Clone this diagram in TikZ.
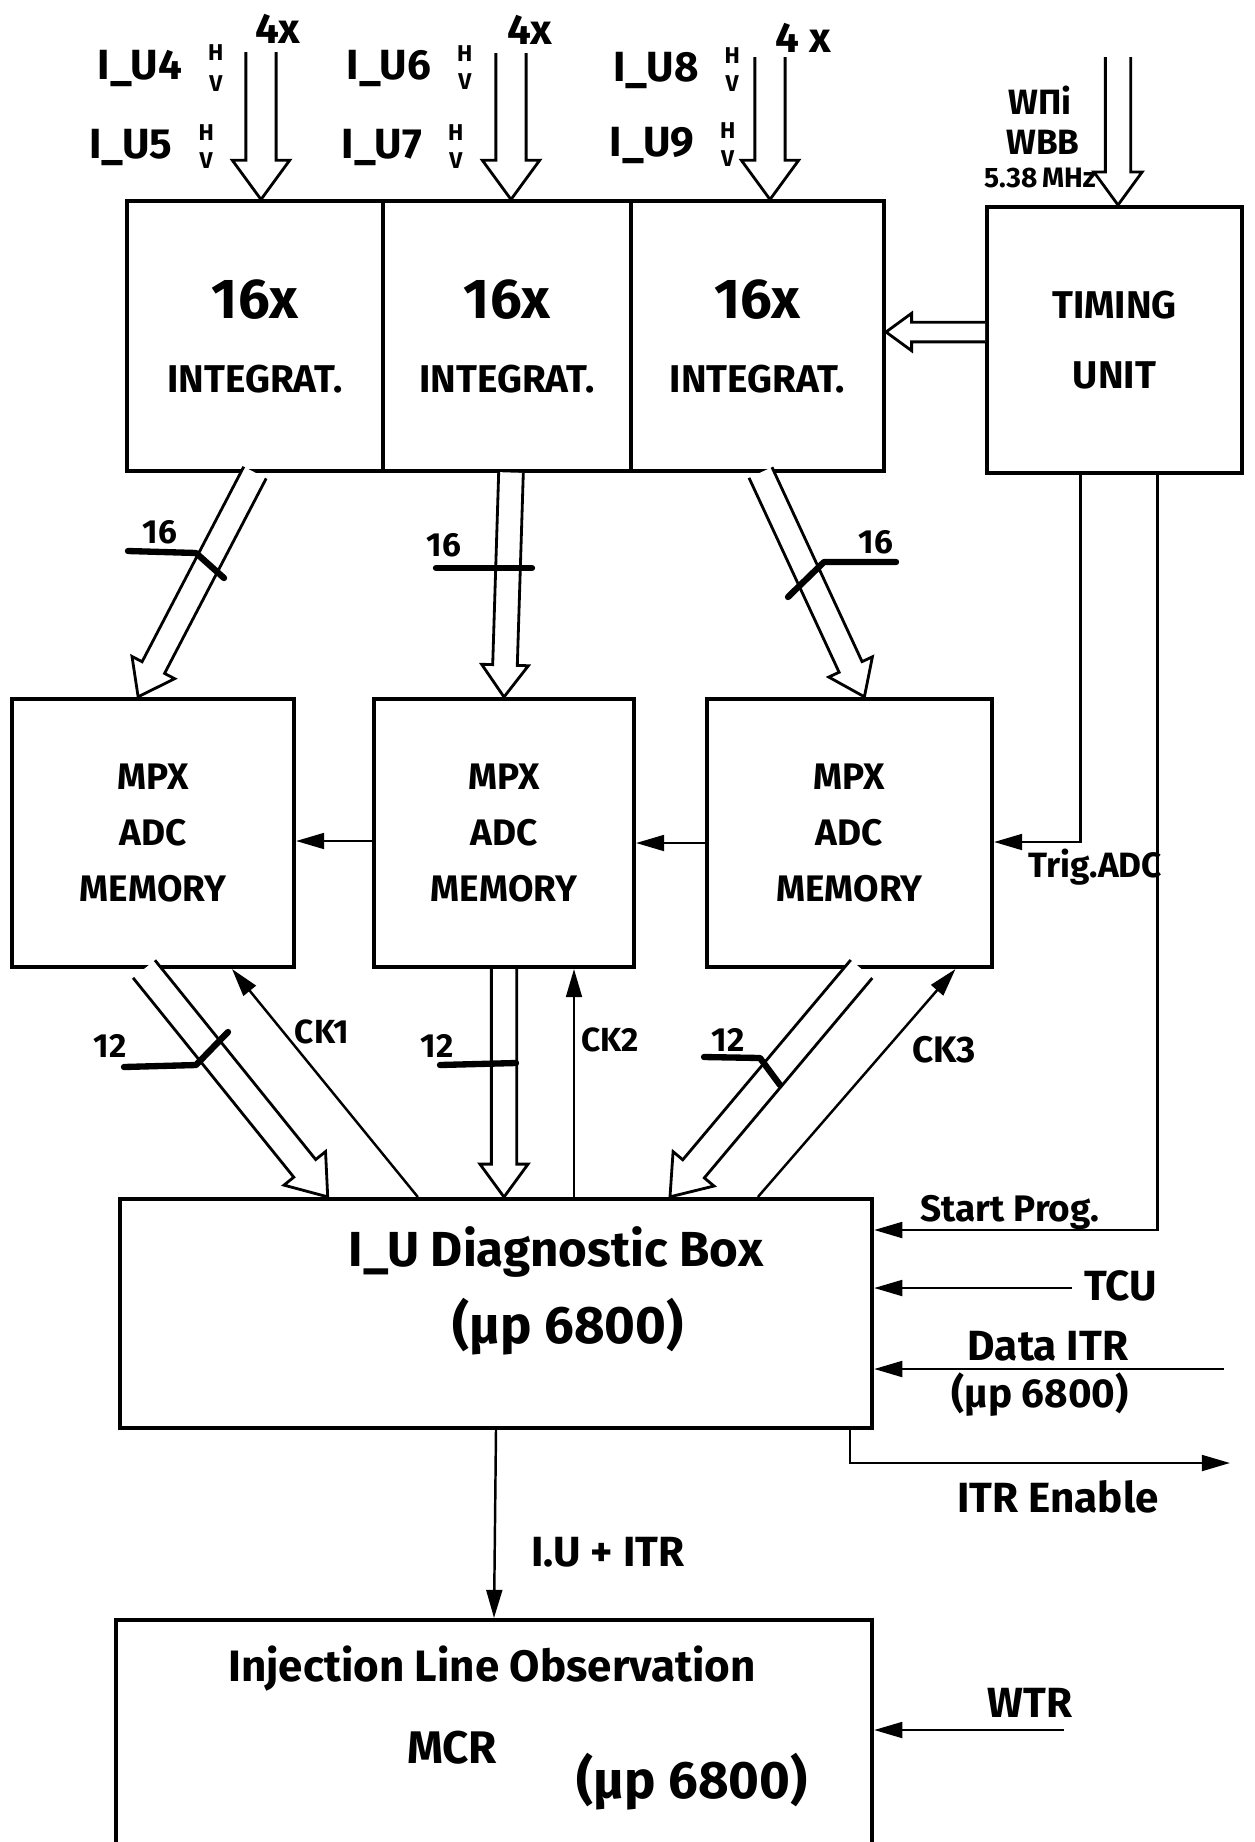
\documentclass[tikz,border=0pt]{standalone}
\usepackage{fontspec}
\setmainfont{Fira Sans}
\usetikzlibrary{arrows.meta,calc,positioning}

% hollow bus arrow: \busarrow[half width]{(from)}{(to)}
\newcommand\busarrow[3][4pt]{%
  \draw[bus] let \p1=#2, \p2=#3,
      \n1={atan2(\y2-\y1,\x2-\x1)}, \n2={veclen(\x2-\x1,\y2-\y1)} in
    [shift={(\p1)}, rotate=\n1]
    (0pt,-#1) -- ({\n2-2.6*#1},-#1) -- ({\n2-2.6*#1},-1.9*#1) -- (\n2,0pt)
    -- ({\n2-2.6*#1},1.9*#1) -- ({\n2-2.6*#1},#1) -- (0pt,#1);}

\begin{document}
\begin{tikzpicture}[x=0.01cm,y=-0.01cm]
\tikzstyle{block} = [draw, line width=1.1pt, inner sep=0pt, align=center, font=\fontsize{11}{15}\selectfont\bfseries]
\tikzstyle{bus} = [line width=0.8pt, fill=white]
\tikzstyle{sig} = [line width=0.7pt, -{Triangle[length=8pt,width=4.5pt]}]
\tikzstyle{tick} = [line width=1.8pt, line cap=round, line join=round]
\tikzstyle{lbl} = [font=\fontsize{12}{14}\selectfont\bfseries, inner sep=1pt]
\tikzstyle{small} = [font=\fontsize{9.5}{11}\selectfont\bfseries, inner sep=1pt]
\tikzstyle{hv} = [font=\fontsize{6.5}{7}\selectfont\bfseries, align=center, inner sep=0pt]

\useasboundingbox (0,0) rectangle (1254,1842);
\clip (0,0) rectangle (1254,1842);

% integrators and timing
\node[block, minimum width=2.56cm, minimum height=2.69cm] (int1) at (255,336) {{\fontsize{16}{18}\selectfont 16x}\\[6pt]INTEGRAT.};
\node[block, minimum width=2.48cm, minimum height=2.69cm] (int2) at (507,336) {{\fontsize{16}{18}\selectfont 16x}\\[6pt]INTEGRAT.};
\node[block, minimum width=2.53cm, minimum height=2.69cm] (int3) at (757.5,336) {{\fontsize{16}{18}\selectfont 16x}\\[6pt]INTEGRAT.};
\node[block, minimum width=2.55cm, minimum height=2.66cm] (timing) at (1114.5,340) {TIMING\\[5pt]UNIT};

% mpx adc memories
\node[block, minimum width=2.82cm, minimum height=2.68cm, font=\fontsize{10.5}{16}\selectfont\bfseries] (mpx1) at (153,833) {MPX\\ADC\\MEMORY};
\node[block, minimum width=2.60cm, minimum height=2.68cm, font=\fontsize{10.5}{16}\selectfont\bfseries] (mpx2) at (504,833) {MPX\\ADC\\MEMORY};
\node[block, minimum width=2.85cm, minimum height=2.68cm, font=\fontsize{10.5}{16}\selectfont\bfseries] (mpx3) at (849.5,833) {MPX\\ADC\\MEMORY};

% diagnostic box and MCR
\node[block, minimum width=7.52cm, minimum height=2.29cm] (diag) at (496,1313.5) {};
\node[font=\fontsize{14}{16}\selectfont\bfseries] (diagtxt) at (556,1252) {I\_U Diagnostic Box};
\node[font=\fontsize{15}{17}\selectfont\bfseries] (diagup) at (568,1327) {(µp 6800)};
\node[block, minimum width=7.56cm, minimum height=2.80cm] (hcr) at (494,1760) {};
\node[font=\fontsize{12.5}{15}\selectfont\bfseries] (hcrtxt) at (492,1669) {Injection Line Observation};
\node[font=\fontsize{13}{15}\selectfont\bfseries] (hcrname) at (452,1748) {MCR};
\node[font=\fontsize{15}{17}\selectfont\bfseries] (hcrup) at (692,1782) {(µp 6800)};

% inputs on top
\coordinate (in1) at (261,52);
\coordinate (in2) at (511,53);
\coordinate (in3) at (770,57);
\coordinate (in4) at (1118,57);
\busarrow[4.3pt]{(in1)}{(in1 |- int1.north)}
\busarrow[4.3pt]{(in2)}{(in2 |- int2.north)}
\busarrow[4.3pt]{(in3)}{(in3 |- int3.north)}
\busarrow[3.6pt]{(in4)}{(in4 |- timing.north)}

\node[lbl] (u4) at (140,68) {I\_U4};
\node[hv, right=6pt of u4] (u4hv) {H\\[2pt]V};
\node[lbl] (u5) at (131,147) {I\_U5};
\node[hv, right=6pt of u5] (u5hv) {H\\[1pt]V};
\node[lbl] (u6) at (389,68) {I\_U6};
\node[hv, right=6pt of u6] (u6hv) {H\\[1pt]V};
\node[lbl] (u7) at (382,147) {I\_U7};
\node[hv, right=6pt of u7] (u7hv) {H\\[1pt]V};
\node[lbl] (u8) at (656,70) {I\_U8};
\node[hv, right=6pt of u8] (u8hv) {H\\[1pt]V};
\node[lbl] (u9) at (652,145) {I\_U9};
\node[hv, right=6pt of u9] (u9hv) {H\\[1pt]V};
\node[lbl] (four1) at (278,29) {4x};
\node[lbl] (four2) at (530,30) {4x};
\node[lbl] (four3) at (803,38) {4 x};
\node[small, font=\fontsize{10}{11}\selectfont\bfseries] (wpi) at (1040,100) {WΠi};
\node[small, font=\fontsize{10}{11}\selectfont\bfseries] (wbb) at (1043,142) {WBB};
\node[small, font=\fontsize{8}{9}\selectfont\bfseries] (freq) at (1040,178) {5.38\,MHz};

% timing to integrators
\coordinate (tu) at ($(timing.west)+(0,-8)$);
\busarrow[2.8pt]{(tu)}{(tu -| int3.east)}

% integrators to memories
\busarrow[3.6pt]{(int1.south)}{($(mpx1.north)+(-15,0)$)}
\busarrow[3.5pt]{($(int2.south)+(4,0)$)}{(mpx2.north)}
\busarrow[3.6pt]{($(int3.south)+(3,0)$)}{($(mpx3.north)+(15,0)$)}
\draw[tick] (128,551) -- (196,553) -- (224,578);
\node[small] (b16a) at (160,532) {16};
\draw[tick] (436,568) -- (532,568);
\node[small] (b16b) at (444,545) {16};
\draw[tick] (788,597) -- (824,562) -- (896,562);
\node[small] (b16c) at (876,542) {16};

% memory chain and trigger
\draw[sig] ($(mpx2.west)+(0,8)$) -- ($(mpx1.east)+(0,8)$);
\draw[sig] ($(mpx3.west)+(0,10)$) -- ($(mpx2.east)+(0,10)$);
\coordinate (t1) at ($(timing.south)+(-34,0)$);
\coordinate (t2) at ($(timing.south)+(43,0)$);
\draw[sig] (t1) |- ($(mpx3.east)+(0,9)$);
\node[small, font=\fontsize{10}{11}\selectfont\bfseries] (trig) at (1095,867) {Trig.ADC};

% memories to diagnostic box
\busarrow[4pt]{($(mpx1.south)+(-9,0)$)}{($(diag.north west)+(210,0)$)}
\busarrow[3.6pt]{(mpx2.south)}{(mpx2.south |- diag.north)}
\busarrow[4pt]{($(mpx3.south)+(12,0)$)}{($(diag.north west)+(552,0)$)}
\coordinate (ck2) at ($(mpx2.south)+(70,0)$);
\draw[sig] ($(diag.north west)+(300,0)$) -- ($(mpx1.south)+(79,0)$);
\draw[sig] (ck2 |- diag.north) -- (ck2);
\draw[sig] ($(diag.north west)+(640,0)$) -- ($(mpx3.south)+(106,0)$);
\node[small] (ck1txt) at (322,1032) {CK1};
\node[small] (ck2txt) at (610,1040) {CK2};
\node[small, font=\fontsize{10.5}{12}\selectfont\bfseries] (ck3txt) at (944,1050) {CK3};
\draw[tick] (124,1067) -- (196,1065) -- (228,1032);
\node[small] (b12a) at (110,1046) {12};
\draw[tick] (440,1065) -- (516,1063);
\node[small] (b12b) at (437,1046) {12};
\draw[tick] (704,1057) -- (760,1058) -- (780,1085);
\node[small] (b12c) at (728,1040) {12};

% right hand signals
\draw[sig] (t2) |- ($(diag.north east)+(0,33)$);
\node[small, font=\fontsize{10.5}{12}\selectfont\bfseries] (start) at (1010,1212) {Start Prog.};
\coordinate (tcu) at (1072,1288);
\draw[sig] (tcu) -- (tcu -| diag.east);
\node[lbl, anchor=west] (tcutxt) at (1080,1286) {TCU};
\coordinate (ditr) at (1224,1369);
\draw[sig] (ditr) -- (ditr -| diag.east);
\node[lbl] (ditrtxt) at (1048,1346) {Data ITR};
\node[lbl, font=\fontsize{11.5}{13}\selectfont\bfseries] (ditrup) at (1040,1395) {(µp 6800)};
\coordinate (ena) at (1230,1463);
\draw[sig] ($(diag.south east)+(-24,0)$) |- (ena);
\node[lbl] (enatxt) at (1058,1497) {ITR Enable};

% down to MCR
\draw[sig] (diag.south) -- (hcr.north);
\node[lbl] (iutxt) at (608,1552) {I.U + ITR};
\coordinate (wtr) at (1064,1730);
\draw[sig] (wtr) -- (wtr -| hcr.east);
\node[lbl] (wtrtxt) at (1030,1703) {WTR};
\end{tikzpicture}
\end{document}
